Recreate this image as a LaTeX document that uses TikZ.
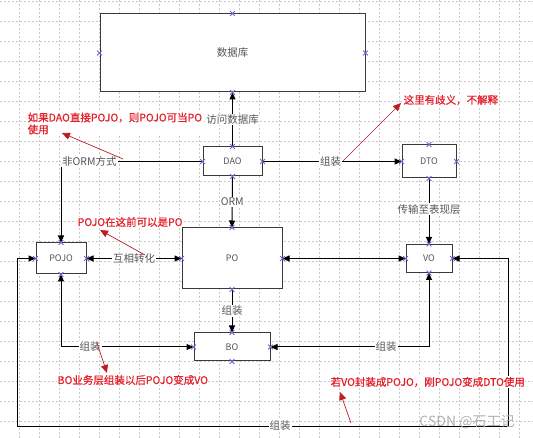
\documentclass[tikz,border=0pt]{standalone}
\usepackage{fontspec}
\setmainfont{Noto Sans CJK SC}
\newfontfamily\redf[FakeBold=0.8]{Noto Sans CJK SC}
\usetikzlibrary{arrows.meta,shapes.misc}
\definecolor{boxline}{HTML}{3A3A3A}
\definecolor{txtgrey}{HTML}{555555}
\definecolor{gridc}{HTML}{C8C8C8}
\definecolor{annred}{HTML}{E3202A}
\definecolor{ptblue}{HTML}{6A6ACF}
\begin{document}
\begin{tikzpicture}[x=1pt,y=-1pt,
  box/.style={draw=boxline, line width=1pt, fill=white, inner sep=0pt, text=txtgrey, font=\fontsize{9}{10}\selectfont},
  lbl/.style={fill=white, inner sep=1pt, text=txtgrey, font=\fontsize{10.5}{12}\selectfont},
  arr/.style={draw=black, line width=1pt, -{Triangle[length=7pt,width=6pt]}},
  darr/.style={draw=black, line width=1pt, {Triangle[length=7pt,width=6pt]}-{Triangle[length=7pt,width=6pt]}},
  redarr/.style={draw=annred!85!black, line width=0.7pt, -{Triangle[length=8pt,width=7pt]}},
  redtxt/.style={text=annred, fill=white, inner sep=0.5pt, anchor=west, align=left, font=\redf\fontsize{10.5}{12}\selectfont},
  xmk/.style={cross out, draw=ptblue, line width=0.8pt, minimum size=4pt, inner sep=0pt},
  gridline/.style={draw=gridc, line width=0.5pt, dash pattern=on 2pt off 2pt}
]
\useasboundingbox (0,0) rectangle (533,438);
\fill[white] (0,0) rectangle (533,438);
% grid
\foreach \i in {0,...,25} \draw[gridline] (19.5+20*\i,0) -- (19.5+20*\i,438);
\foreach \j in {0,...,21} \draw[gridline] (0,1+20*\j) -- (533,1+20*\j);

% boxes
\node[box, minimum width=265pt, minimum height=78pt] (db) at (232.5,53) {\fontsize{10.5}{12}\selectfont 数据库};
\node[box, minimum width=59pt, minimum height=29pt] (dao) at (232.5,161.5) {DAO};
\node[box, minimum width=54pt, minimum height=33pt] (dto) at (429,161.5) {DTO};
\node[box, minimum width=100pt, minimum height=61pt] (po) at (232,258.5) {PO};
\node[box, minimum width=50pt, minimum height=31pt] (pojo) at (61,258.5) {POJO};
\node[box, minimum width=46pt, minimum height=28pt] (vo) at (429,258.5) {VO};
\node[box, minimum width=76pt, minimum height=28pt] (bo) at (232,347) {BO};

% loop coordinates
\coordinate (c2) at (508,426);
\coordinate (c3) at (17,426);

% connectors
\draw[arr] (dao.north) -- node[lbl]{访问数据库} (db.south);
\draw[arr] (dao.west) -| node[lbl, pos=0.4]{非ORM方式} (pojo.north);
\draw[arr] (dao.east) -- node[lbl, pos=0.49]{组装} (dto.west);
\draw[arr] (dao.south) -- node[lbl]{ORM} (po.north);
\draw[arr] (dto.south) -- node[lbl, pos=0.47]{传输至表现层} (vo.north);
\draw[darr] (pojo.east) -- node[lbl]{互相转化} (po.west);
\draw[darr] (po.east) -- (vo.west);
\draw[arr] (po.south) -- node[lbl]{组装} (bo.north);
\draw[darr] (pojo.south) |- node[lbl, pos=0.61]{组装} (bo.west);
\draw[darr] (vo.south) |- node[lbl, pos=0.635]{组装} (bo.east);
\draw[darr] (vo.east) -| (c2) -- node[lbl, pos=0.464]{组装} (c3) |- (pojo.west);

% connection point markers
\foreach \n in {db,dao,dto,po,pojo,vo,bo}
  \foreach \a in {north,south,east,west}
    \node[xmk] at (\n.\a) {};

% red annotations
\node[redtxt] (t1) at (27,123.5) {如果DAO直接POJO，则POJO可当PO\\使用};
\node[redtxt] (t2) at (403,100) {这里有歧义，不解释};
\node[redtxt] (t3) at (77,222) {POJO在这前可以是PO};
\node[redtxt] (t4) at (57,380) {BO业务层组装以后POJO变成VO};
\node[redtxt] (t5) at (330,382) {若VO封装成POJO，刚POJO变成DTO使用};

\coordinate (r1s) at (123,159); \coordinate (r1e) at (62,133);
\coordinate (r2s) at (343,161); \coordinate (r2e) at (401,103);
\coordinate (r3s) at (145,255); \coordinate (r3e) at (100,230);
\coordinate (r4s) at (97,343);  \coordinate (r4e) at (107,373);
\coordinate (r5s) at (351,423); \coordinate (r5e) at (340,392);
\draw[redarr] (r1s) -- (r1e);
\draw[redarr] (r2s) -- (r2e);
\draw[redarr] (r3s) -- (r3e);
\draw[redarr] (r4s) -- (r4e);
\draw[redarr] (r5s) -- (r5e);

% watermark
\node[text=black!30, inner sep=0pt, font=\fontsize{14}{15}\selectfont] (wm) at (467,422) {CSDN @石工记};
\end{tikzpicture}
\end{document}
